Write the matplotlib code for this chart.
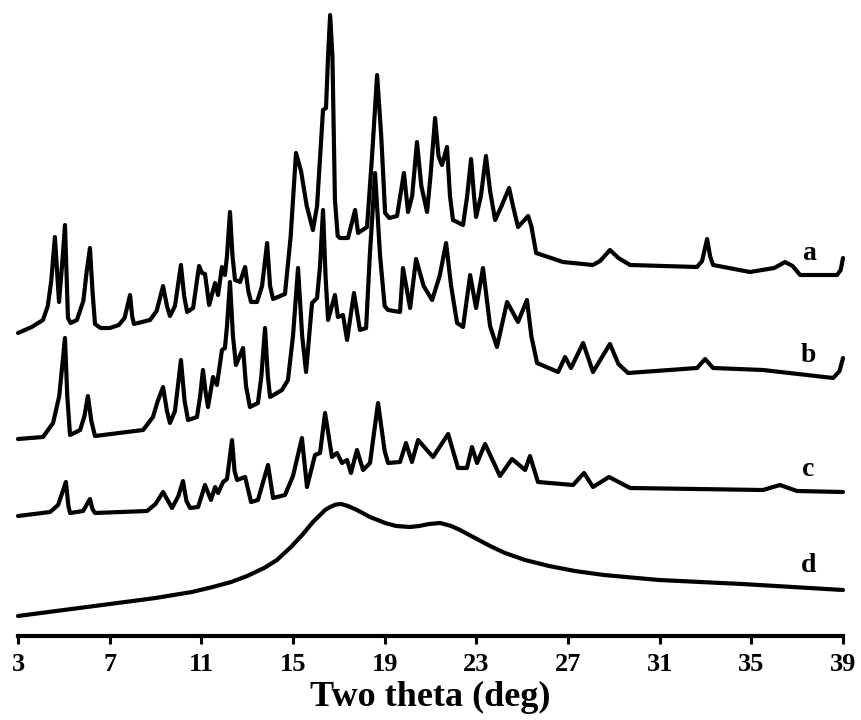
import matplotlib
matplotlib.use("Agg")
import matplotlib.pyplot as plt

# traced XRD patterns (2theta in deg, intensity in arbitrary units, already offset)
two_theta_a = [3.0, 3.6, 4.09, 4.3, 4.45, 4.61, 4.72, 4.79, 4.92, 5.05, 5.12, 5.18, 5.3, 5.57,
               5.85, 6.0, 6.14, 6.25, 6.36, 6.6, 7.01, 7.4, 7.65, 7.89, 7.98, 8.06, 8.76, 9.05,
               9.33, 9.5, 9.63, 9.85, 10.11, 10.25, 10.38, 10.64, 10.90, 11.03, 11.16, 11.34,
               11.60, 11.73, 11.90, 12.03, 12.12, 12.25, 12.36, 12.47, 12.69, 12.91, 13.05,
               13.17, 13.43, 13.65, 13.87, 14.0, 14.13, 14.65, 14.9, 15.13, 15.35, 15.6, 15.87,
               16.05, 16.31, 16.44, 16.53, 16.62, 16.72, 16.83, 16.95, 17.05, 17.40, 17.71,
               17.84, 18.23, 18.45, 18.67, 18.85, 19.02, 19.2, 19.54, 19.84, 20.02, 20.2, 20.41,
               20.6, 20.85, 21.0, 21.20, 21.35, 21.50, 21.72, 21.85, 21.98, 22.42, 22.6, 22.77,
               22.9, 22.99, 23.2, 23.42, 23.6, 23.82, 24.1, 24.43, 24.6, 24.82, 25.26, 25.4,
               25.61, 26.78, 28.09, 28.4, 28.83, 29.2, 29.71, 32.63, 32.85, 33.07, 33.2, 33.33,
               34.94, 36.0, 36.47, 36.8, 37.13, 38.74, 38.9, 39.0]
intensity_a = [303, 309, 316, 330, 355, 399, 360, 334, 370, 411, 360, 318, 313, 316,
               335, 365, 388, 345, 312, 308, 308, 311, 318, 341, 320, 312, 316, 325,
               350, 330, 320, 330, 371, 340, 324, 328, 370, 363, 362, 331,
               353, 341, 369, 361, 380, 424, 380, 356, 354, 369, 345,
               334, 334, 350, 393, 350, 337, 342, 400, 483, 465, 430, 406,
               430, 526, 528, 580, 621, 580, 436, 400, 398, 398, 426,
               403, 409, 480, 561, 500, 423, 418, 420, 463, 424, 440, 494,
               450, 424, 460, 518, 480, 471, 489, 440, 416, 411, 440, 477,
               440, 419, 440, 480, 445, 416, 430, 448, 430, 409, 420, 410,
               383, 374, 371, 375, 386, 378, 371, 369, 375, 397, 380, 371,
               364, 368, 374, 370, 361, 361, 366, 378]

two_theta_b = [3.0, 4.09, 4.53, 4.8, 5.05, 5.15, 5.27, 5.71, 5.9, 6.05, 6.2, 6.36, 8.46, 8.89,
               9.1, 9.33, 9.5, 9.63, 9.85, 10.11, 10.27, 10.42, 10.81, 10.95, 11.07, 11.18,
               11.29, 11.51, 11.68, 11.90, 12.03, 12.12, 12.25, 12.38, 12.51, 12.82, 12.95,
               13.12, 13.47, 13.62, 13.78, 13.9, 14.00, 14.52, 14.78, 15.0, 15.22, 15.4, 15.57,
               15.83, 16.05, 16.18, 16.31, 16.42, 16.53, 16.83, 16.96, 17.18, 17.36, 17.66,
               17.92, 18.19, 18.35, 18.58, 18.8, 19.0, 19.15, 19.67, 19.80, 20.11, 20.37, 20.7,
               21.07, 21.4, 21.68, 21.9, 22.16, 22.42, 22.73, 22.99, 23.29, 23.6, 23.90, 24.34,
               24.82, 25.21, 25.4, 25.65, 26.57, 26.87, 27.13, 27.66, 28.09, 28.83, 29.2, 29.62,
               32.63, 32.98, 33.33, 35.51, 38.57, 38.85, 39.0]
intensity_b = [197, 199, 213, 240, 298, 240, 201, 206, 220, 240, 215, 200, 206, 219,
               235, 249, 225, 213, 225, 276, 235, 216, 219, 240, 266, 245,
               229, 259, 251, 286, 288, 310, 354, 300, 271, 288, 250,
               229, 233, 260, 308, 260, 239, 246, 256, 300, 368, 300, 264,
               333, 338, 370, 426, 360, 316, 341, 319, 321, 296, 343,
               306, 308, 380, 463, 380, 330, 326, 324, 368, 328, 377, 350,
               336, 360, 393, 350, 313, 309, 361, 328, 368, 310, 289, 334,
               314, 336, 300, 273, 264, 279, 268, 293, 264, 292, 272, 263,
               268, 277, 268, 266, 258, 265, 278]

two_theta_c = [3.0, 4.40, 4.75, 5.09, 5.2, 5.27, 5.84, 6.14, 6.25, 6.36, 8.63, 9.0, 9.33, 9.72,
               10.0, 10.20, 10.35, 10.51, 10.86, 11.16, 11.42, 11.60, 11.73, 11.95, 12.12,
               12.34, 12.45, 12.56, 12.91, 13.17, 13.47, 13.91, 14.13, 14.65, 15.0, 15.39,
               15.61, 15.96, 16.18, 16.40, 16.70, 16.92, 17.14, 17.36, 17.53, 17.79, 18.06,
               18.36, 18.71, 19.0, 19.15, 19.67, 19.93, 20.19, 20.46, 21.11, 21.77, 22.20,
               22.59, 22.81, 23.03, 23.38, 24.03, 24.56, 25.13, 25.34, 25.69, 27.22, 27.70,
               28.09, 28.79, 29.71, 35.51, 36.25, 36.99, 39.0]
intensity_c = [120, 124, 131, 154, 130, 123, 125, 137, 127, 123, 125, 132, 144, 128,
               140, 155, 135, 128, 129, 151, 136, 149, 143, 154, 157,
               196, 165, 156, 159, 134, 136, 171, 138, 141, 160, 198,
               149, 181, 183, 223, 179, 183, 173, 176, 163, 186, 166,
               173, 233, 185, 173, 174, 193, 174, 196, 179, 202, 168,
               168, 189, 173, 192, 160, 177, 166, 180, 154, 151, 163,
               149, 159, 148, 146, 151, 145, 144]

two_theta_d = [3.0, 5.0, 7.01, 9.0, 10.59, 11.5, 12.30, 13.0, 13.74, 14.3, 14.91, 15.4, 15.87,
               16.18, 16.4, 16.62, 16.87, 17.10, 17.40, 17.79, 18.36, 19.02, 19.50, 20.11,
               20.5, 20.94, 21.42, 21.90, 22.29, 22.86, 23.60, 24.25, 25.13, 26.17, 27.3,
               28.57, 30.97, 34.60, 39.0]
intensity_d = [20, 26, 32, 38, 44, 49, 54, 60, 68, 76, 89, 101, 114,
               121, 126, 129, 131.5, 132, 130, 126, 119, 113, 110, 109,
               110, 112, 113, 110, 106, 99, 90, 83, 76, 70, 65,
               61, 56, 52, 46]

sample_labels = ["a", "b", "c", "d"]
label_y = [383, 281, 166, 70]

serif = "Liberation Serif"

fig = plt.figure(figsize=(8.61, 7.2), dpi=100)
ax = fig.add_axes([18 / 861, 84 / 720, 825 / 861, 636 / 720])

for x, y in [(two_theta_a, intensity_a), (two_theta_b, intensity_b),
             (two_theta_c, intensity_c), (two_theta_d, intensity_d)]:
    ax.plot(x, y, color="black", lw=3.0, solid_joinstyle="round",
            solid_capstyle="round", clip_on=False)

for lab, yy in zip(sample_labels, label_y):
    ax.text(37.5, yy, lab, fontsize=20, fontweight="bold", family=serif,
            ha="center", va="center")

ax.set_xlim(3, 39)
ax.set_ylim(0, 636)
ax.set_xticks(range(3, 40, 4))
ax.set_yticks([])
for side in ["top", "right", "left"]:
    ax.spines[side].set_visible(False)
ax.spines["bottom"].set_linewidth(3.0)
ax.tick_params(axis="x", direction="out", length=6, width=2.2, pad=6)
for t in ax.get_xticklabels():
    t.set_fontfamily(serif)
    t.set_fontweight("bold")
    t.set_fontsize(19)
ax.set_xlabel("Two theta (deg)", fontsize=26, fontweight="bold", family=serif,
              labelpad=4)

fig.savefig("out.png", dpi=100)
